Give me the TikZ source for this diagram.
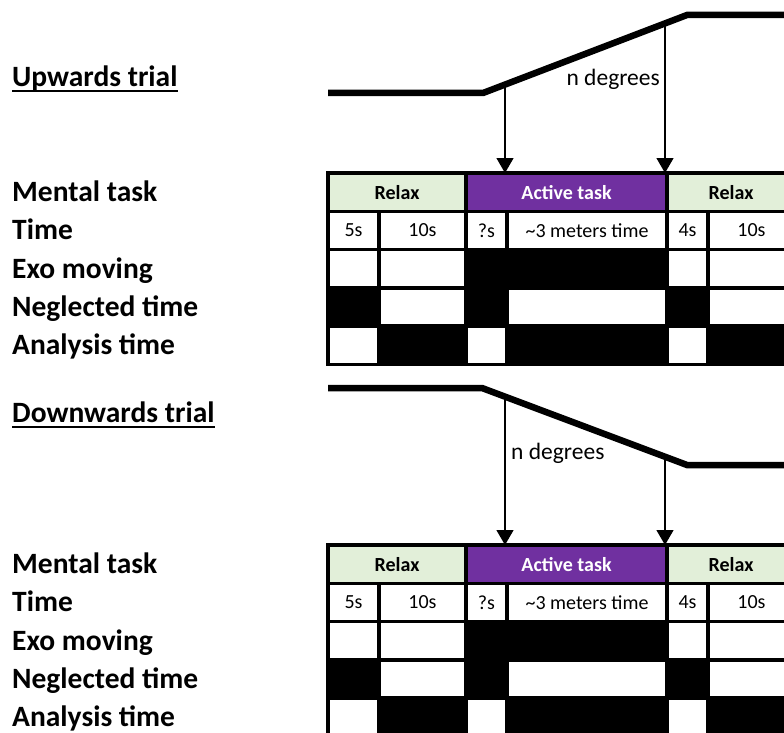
\documentclass[tikz,border=0pt]{standalone}
\usepackage{fontspec}
\setmainfont{Carlito}
\usetikzlibrary{arrows.meta, positioning}
\definecolor{relaxgreen}{HTML}{E2EFD9}
\definecolor{taskpurple}{HTML}{7030A0}

\begin{document}
\begin{tikzpicture}[x=1pt, y=-1pt,
  font=\fontsize{20}{24}\selectfont,
  cell/.style={draw, line width=3.5pt, anchor=north west, minimum height=38.3pt,
               inner sep=0pt, outer sep=0pt},
  head/.style={cell, font=\fontsize{20}{24}\selectfont\bfseries},
  lab/.style={anchor=base west, inner sep=0pt, font=\fontsize{29.5}{33}\selectfont\bfseries},
  deg/.style={inner sep=0pt, font=\fontsize{23.5}{26}\selectfont},
  trace/.style={line width=6.5pt},
  arr/.style={-{Triangle[length=15pt, width=17pt]}, line width=1.3pt}]
\useasboundingbox (0,0) rectangle (784,733);
\clip (0,0) rectangle (784,733);

% upwards trial
\node[lab] (uptitle) at (12,87) {Upwards trial};
\draw[line width=2pt] ([yshift=-4.5pt]uptitle.base west) -- ([yshift=-4.5pt]uptitle.base east);
\draw[trace] (328,93) -- (483,93) -- (687,15) -- (800,15);
\coordinate (up-a1) at (505,84.6);
\coordinate (up-a2) at (665,23.4);
\node[deg, anchor=base east] (up-deg) at (660,86) {n degrees};

% downwards trial
\node[lab] (downtitle) at (12,422) {Downwards trial};
\draw[line width=2pt] ([yshift=-4.5pt]downtitle.base west) -- ([yshift=-4.5pt]downtitle.base east);
\draw[trace] (328,388) -- (482,388) -- (687,465) -- (800,465);
\coordinate (down-a1) at (505,396.6);
\coordinate (down-a2) at (665,456.7);
\node[deg, anchor=base west] (down-deg) at (511,459) {n degrees};

% the two tables with their row labels
\foreach \t/\dy in {up/0pt, down/372pt} {
\begin{scope}[yshift=-\dy, name prefix=\t-]
  \node[head, fill=relaxgreen, minimum width=138pt] (task1) at (328,173) {Relax};
  \node[head, fill=taskpurple, text=white, minimum width=201pt] (task2) at (466,173) {Active task};
  \node[head, fill=relaxgreen, minimum width=128pt] (task3) at (667,173) {Relax};
  \foreach \x/\w/\txt/\fe/\fn/\fa [count=\i] in {
      328/51/5s/white/black/white, 379/87/10s/white/white/black,
      466/41/?s/black/black/white, 507/160/{\textasciitilde3 meters time}/black/white/black,
      667/41/4s/white/black/white, 708/87/10s/white/white/black} {
    \node[cell, minimum width=\w pt] (time\i) at (\x,211.3) {\txt};
    \node[cell, minimum width=\w pt, fill=\fe] (exo\i) at (\x,249.6) {};
    \node[cell, minimum width=\w pt, fill=\fn] (negl\i) at (\x,287.9) {};
    \node[cell, minimum width=\w pt, fill=\fa] (anal\i) at (\x,326.2) {};
  }
  \node[lab] (l1) at (12,201) {Mental task};
  \node[lab] (l2) at (12,239.5) {Time};
  \node[lab] (l3) at (12,278) {Exo moving};
  \node[lab] (l4) at (12,316) {Neglected time};
  \node[lab] (l5) at (12,354.5) {Analysis time};
\end{scope}
}

% onset and end of the movement
\draw[arr] (up-a1) -- (up-a1 |- up-task2.north);
\draw[arr] (up-a2) -- (up-a2 |- up-task2.north);
\draw[arr] (down-a1) -- (down-a1 |- down-task2.north);
\draw[arr] (down-a2) -- (down-a2 |- down-task2.north);
\end{tikzpicture}
\end{document}
